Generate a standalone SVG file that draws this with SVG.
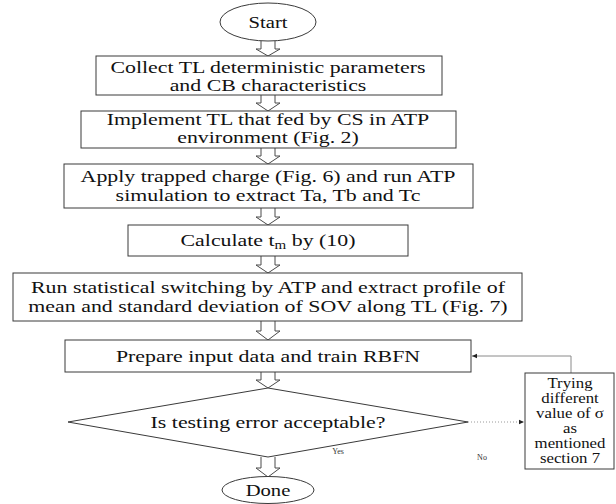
<svg xmlns="http://www.w3.org/2000/svg" width="616" height="504" viewBox="0 0 616 504" font-family="'Liberation Serif', 'Times New Roman', 'DejaVu Serif', serif">
  <style>
    .box { fill: #fff; stroke: #3a3a3a; stroke-width: 1; }
    .blk { fill: #fff; stroke: #4a4a4a; stroke-width: 1; }
    .t { font-family: 'Liberation Serif', 'Times New Roman', 'DejaVu Serif', serif; font-size: 17.5px; fill: #111; text-anchor: middle; }
    .s { font-family: 'Liberation Serif', 'Times New Roman', 'DejaVu Serif', serif; font-size: 14px; fill: #111; text-anchor: middle; }
    .lbl { font-family: 'Liberation Serif', 'Times New Roman', 'DejaVu Serif', serif; font-size: 8px; fill: #333; text-anchor: middle; }
    .link { fill: none; stroke: #8a8a8a; stroke-width: 1; }
    .dot { fill: none; stroke: #9a9a9a; stroke-width: 1; stroke-dasharray: 1 2; }
  </style>
  <defs>
    <marker id="tip" markerWidth="6" markerHeight="6" refX="5" refY="3" orient="auto" markerUnits="userSpaceOnUse">
      <path d="M0,0.8 L5,3 L0,5.2 Z" fill="#222"/>
    </marker>
  </defs>

  <!-- hollow block arrows between the steps -->
  <g id="connectors">
    <path class="blk" d="M261,41 V49 H256 L268,56 L280,49 H275 V41"/>
    <path class="blk" d="M261,95 V103 H256 L268,111 L280,103 H275 V95"/>
    <path class="blk" d="M261,148 V156 H256 L268,164 L280,156 H275 V148"/>
    <path class="blk" d="M261,208 V217 H256 L268,225 L280,217 H275 V208"/>
    <path class="blk" d="M261,256 V265 H256 L268,273 L280,265 H275 V256"/>
    <path class="blk" d="M261,321 V331 H256 L268,340 L280,331 H275 V321"/>
    <path class="blk" d="M261,372 V380 H256 L268,388 L280,380 H275 V372"/>
    <path class="blk" d="M261,457 V468 H256 L268,477 L280,468 H275 V457"/>
    <!-- feedback loop back to training -->
    <polyline class="link" points="571,373 571,356 472,356" marker-end="url(#tip)"/>
    <line class="dot" x1="468" y1="422" x2="524" y2="422" marker-end="url(#tip)"/>
    <text class="lbl" x="338" y="454">Yes</text>
    <text class="lbl" x="482" y="460">No</text>
  </g>

  <g id="start">
    <ellipse class="box" cx="268" cy="22" rx="48" ry="19"/>
    <text class="t" transform="translate(268 28) scale(1.18 1)">Start</text>
  </g>

  <g id="collect">
    <rect class="box" x="96" y="56" width="346" height="39"/>
    <text class="t" transform="translate(268 73) scale(1.25 1)">Collect TL deterministic parameters</text>
    <text class="t" transform="translate(268 91) scale(1.25 1)">and CB characteristics</text>
  </g>

  <g id="implement">
    <rect class="box" x="81" y="111" width="375" height="37"/>
    <text class="t" transform="translate(268 125) scale(1.25 1)">Implement TL that fed by CS in ATP</text>
    <text class="t" transform="translate(268 143) scale(1.25 1)">environment (Fig. 2)</text>
  </g>

  <g id="trapped">
    <rect class="box" x="64" y="164" width="409" height="44"/>
    <text class="t" transform="translate(268 182) scale(1.25 1)">Apply trapped charge (Fig. 6) and run ATP</text>
    <text class="t" transform="translate(268 201) scale(1.25 1)">simulation to extract Ta, Tb and Tc</text>
  </g>

  <g id="calculate">
    <rect class="box" x="128" y="225" width="280" height="31"/>
    <text class="t" transform="translate(268 246) scale(1.25 1)">Calculate t<tspan font-size="12" dy="3">m</tspan><tspan dy="-3"> by (10)</tspan></text>
  </g>

  <g id="switching">
    <rect class="box" x="13" y="273" width="509" height="48"/>
    <text class="t" transform="translate(268 293) scale(1.25 1)">Run statistical switching by ATP and extract profile of</text>
    <text class="t" transform="translate(268 312) scale(1.25 1)">mean and standard deviation of SOV along TL (Fig. 7)</text>
  </g>

  <g id="train">
    <rect class="box" x="65" y="340" width="406" height="32"/>
    <text class="t" transform="translate(268 362) scale(1.25 1)">Prepare input data and train RBFN</text>
  </g>

  <g id="decision">
    <polygon class="box" points="68,422 268,388 468,422 268,457"/>
    <text class="t" transform="translate(268 428) scale(1.25 1)">Is testing error acceptable?</text>
  </g>

  <g id="retry">
    <rect class="box" x="525" y="373" width="89" height="96"/>
    <text class="s" transform="translate(570 388) scale(1.2 1)">Trying</text>
    <text class="s" transform="translate(570 403) scale(1.2 1)">different</text>
    <text class="s" transform="translate(570 418) scale(1.2 1)">value of σ</text>
    <text class="s" transform="translate(570 433) scale(1.2 1)">as</text>
    <text class="s" transform="translate(570 448) scale(1.2 1)">mentioned</text>
    <text class="s" transform="translate(570 463) scale(1.2 1)">section 7</text>
  </g>

  <g id="done">
    <ellipse class="box" cx="268" cy="490" rx="46" ry="13.5"/>
    <text class="t" transform="translate(268 496) scale(1.18 1)">Done</text>
  </g>
</svg>
